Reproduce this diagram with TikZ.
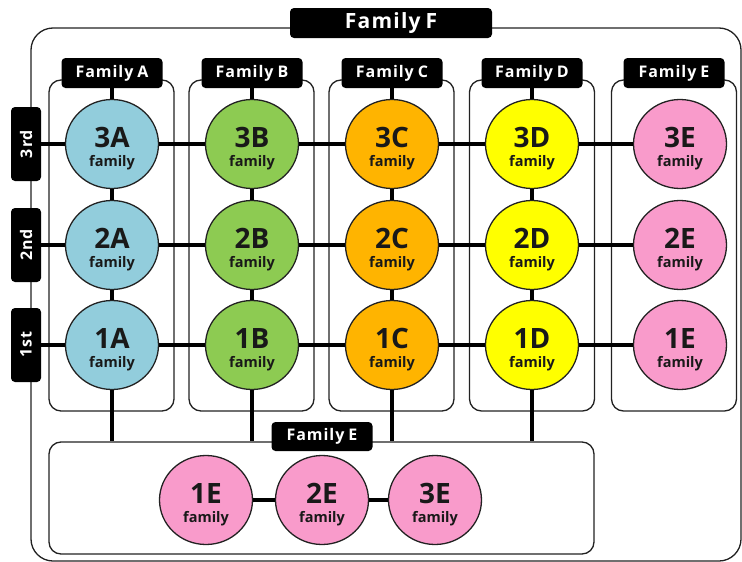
\documentclass[tikz,border=0pt]{standalone}
\usepackage{fontspec}
\setmainfont{Open Sans}
\usetikzlibrary{shapes.geometric}
\definecolor{cA}{HTML}{92CDDC}
\definecolor{cB}{HTML}{8DCB52}
\definecolor{cC}{HTML}{FFB400}
\definecolor{cD}{HTML}{FFFF00}
\definecolor{cE}{HTML}{F99BCB}
\definecolor{edge}{HTML}{222222}
\newcommand\tagfont{\bfseries\fontsize{16}{16}\selectfont\addfontfeature{LetterSpace=6}}
\tikzset{
  link/.style={line width=4pt, black},
  thinbox/.style={draw=edge, line width=1.3pt, rounded corners=12pt, inner sep=0pt},
  fcirc/.style={ellipse, draw=edge, line width=1.3pt, minimum width=93pt, minimum height=89pt, inner sep=0pt},
  numtxt/.style={font=\bfseries\fontsize{28}{28}\selectfont, inner sep=0pt, text=black!90},
  famtxt/.style={font=\bfseries\fontsize{14.5}{14.5}\selectfont, inner sep=0pt, text=black!90},
  tag/.style={fill=black, text=white, rounded corners=4pt, font=\tagfont, minimum width=101pt, minimum height=30pt, inner sep=0pt},
  rowtag/.style={tag, minimum width=74pt, minimum height=30pt, rotate=90},
}
\newcommand\famcirc[5]{%
  \node[fcirc, fill=#4] (#1) at (#2,#3) {};
  \node[numtxt] (#1n) at (#2,#3-6.5) {#5};
  \node[famtxt] (#1f) at (#2,#3+19) {family};
}
\begin{document}
\begin{tikzpicture}[x=1pt,y=-1pt]
\useasboundingbox (0,0) rectangle (742,562);
% outer box
\node[thinbox, rounded corners=22pt, minimum width=710pt, minimum height=533pt] (outer) at (386,294.5) {};
% column boxes
\node[thinbox, minimum width=125pt, minimum height=331pt] (boxA) at (111.5,245.5) {};
\node[thinbox, minimum width=125pt, minimum height=331pt] (boxB) at (251.5,245.5) {};
\node[thinbox, minimum width=125pt, minimum height=331pt] (boxC) at (391.5,245.5) {};
\node[thinbox, minimum width=125pt, minimum height=331pt] (boxD) at (532,245.5) {};
\node[thinbox, minimum width=125pt, minimum height=331pt] (boxE) at (674,245.5) {};
% bottom box
\node[thinbox, minimum width=545pt, minimum height=112pt] (bot) at (321.5,498) {};
% labels
\node[tag] (lblA) at (112,73) {Family\hspace{4pt}A};
\node[tag] (lblB) at (252,73) {Family\hspace{4pt}B};
\node[tag] (lblC) at (392,73) {Family\hspace{4pt}C};
\node[tag] (lblD) at (532,73) {Family\hspace{4pt}D};
\node[tag] (lblE) at (674,73) {Family\hspace{4pt}E};
\node[tag, minimum width=202pt, font=\tagfont\fontsize{21}{21}\selectfont] (lblF) at (391,23) {Family\hspace{5pt}F};
\node[tag, minimum height=29pt] (lblBot) at (322,436.5) {Family\hspace{4pt}E};
\node[rowtag] (r3) at (26,144) {3rd};
\node[rowtag] (r2) at (26,245) {2nd};
\node[rowtag] (r1) at (26,345) {1st};
% circles
\famcirc{3A}{112}{144}{cA}{3A}
\famcirc{2A}{112}{245}{cA}{2A}
\famcirc{1A}{112}{345}{cA}{1A}
\famcirc{3B}{252}{144}{cB}{3B}
\famcirc{2B}{252}{245}{cB}{2B}
\famcirc{1B}{252}{345}{cB}{1B}
\famcirc{3C}{392}{144}{cC}{3C}
\famcirc{2C}{392}{245}{cC}{2C}
\famcirc{1C}{392}{345}{cC}{1C}
\famcirc{3D}{532}{144}{cD}{3D}
\famcirc{2D}{532}{245}{cD}{2D}
\famcirc{1D}{532}{345}{cD}{1D}
\famcirc{3E}{680}{144}{cE}{3E}
\famcirc{2E}{680}{245}{cE}{2E}
\famcirc{1E}{680}{345}{cE}{1E}
\famcirc{b1}{206}{500}{cE}{1E}
\famcirc{b2}{322}{500}{cE}{2E}
\famcirc{b3}{435}{500}{cE}{3E}
% connectors
\foreach \c in {A,B,C,D}{
  \draw[link] (lbl\c.south) -- (3\c.north);
  \draw[link] (3\c.south) -- (2\c.north);
  \draw[link] (2\c.south) -- (1\c.north);
  \draw[link] (1\c.south) -- (1\c.south |- bot.north);
}
\foreach \r in {1,2,3}{
  \draw[link] (r\r) -- (\r A);
  \draw[link] (\r A) -- (\r B);
  \draw[link] (\r B) -- (\r C);
  \draw[link] (\r C) -- (\r D);
  \draw[link] (\r D) -- (\r E);
}
\draw[link] (b1) -- (b2);
\draw[link] (b2) -- (b3);
\end{tikzpicture}
\end{document}
